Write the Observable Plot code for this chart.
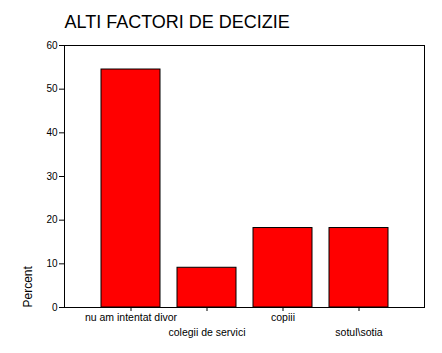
<!DOCTYPE html>
<html>
<head>
<meta charset="utf-8">
<script src="https://cdn.jsdelivr.net/npm/d3@7"></script>
<script src="https://cdn.jsdelivr.net/npm/@observablehq/plot@0.6"></script>
<style>
  html, body { margin: 0; padding: 0; background: white; }
</style>
</head>
<body>
<div id="chart"></div>
<script>
const categories = ["nu am intentat divor", "colegii de servici", "copiii", "sotul\\sotia"];
const percents = [54.5, 9.1, 18.2, 18.2];
const yTicks = [0, 10, 20, 30, 40, 50, 60];
const title = "ALTI FACTORI DE DECIZIE";
const yLabel = "Percent";

const data = categories.map((c, i) => ({cat: c, pct: percents[i]}));

const chart = Plot.plot({
  width: 442,
  height: 353,
  marginLeft: 64,
  marginRight: 18,
  marginTop: 45,
  marginBottom: 46,
  style: {fontFamily: "'Liberation Sans', Arial, sans-serif", background: "white", color: "black"},
  x: {domain: categories, paddingInner: 0.23, paddingOuter: 0.46},
  y: {domain: [0, 60]},
  marks: [
    Plot.barY(data, {x: "cat", y: "pct", fill: "#ff0000", stroke: "black", strokeWidth: 1}),
    Plot.frame({stroke: "black"}),
    Plot.axisY({ticks: yTicks, tickSize: 5, tickPadding: 2, fontSize: 10, label: null}),
    Plot.axisX({ticks: [categories[0], categories[2]], tickSize: 4, tickPadding: 2, fontSize: 10.5, label: null}),
    Plot.axisX({ticks: [categories[1], categories[3]], tickSize: 4, tickPadding: 17, fontSize: 10.5, label: null}),
    Plot.text([yLabel], {frameAnchor: "bottom-left", rotate: -90, dx: -36, textAnchor: "start", lineAnchor: "middle", fontSize: 12}),
    Plot.text([title], {frameAnchor: "top-left", dy: -30, textAnchor: "start", lineAnchor: "top", fontSize: 18})
  ]
});
document.getElementById("chart").appendChild(chart);
</script>
</body>
</html>
